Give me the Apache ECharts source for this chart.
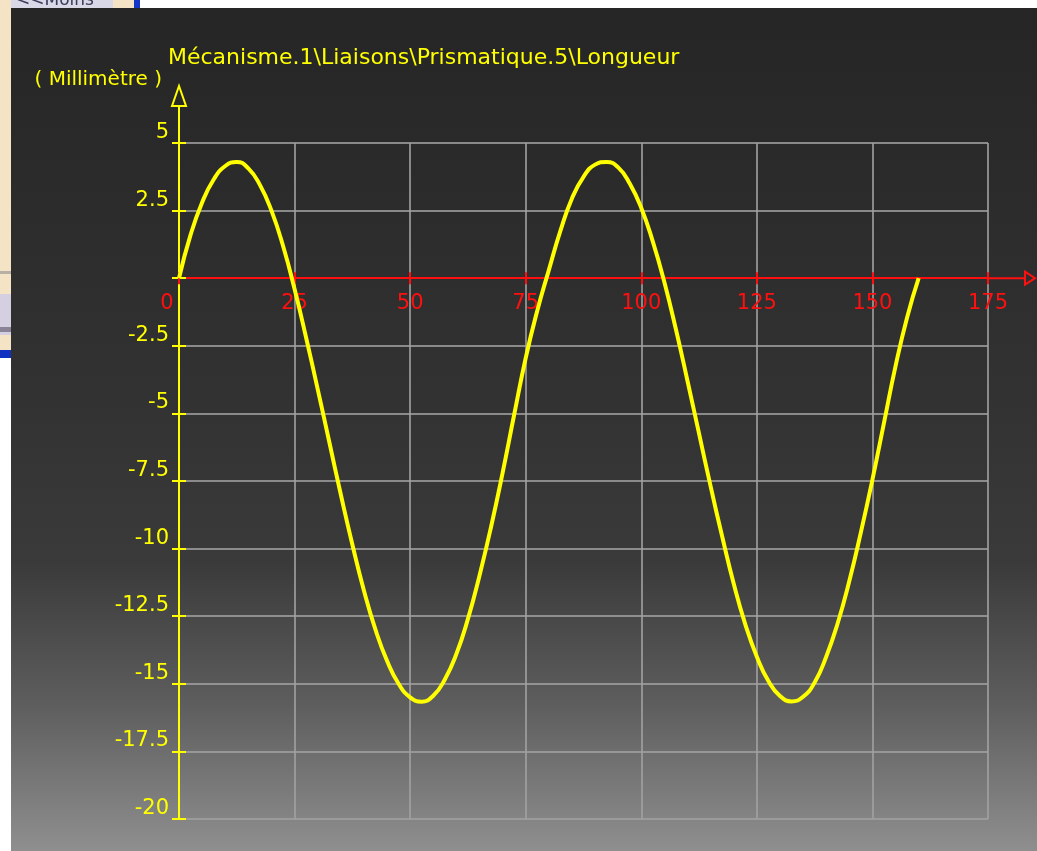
<!DOCTYPE html>
<html>
<head>
<meta charset="utf-8">
<title>Longueur</title>
<script src="https://cdn.jsdelivr.net/npm/echarts@6/dist/echarts.min.js"></script>
<style>
html,body{margin:0;padding:0;background:#fff;}
#main{width:1037px;height:851px;}
</style>
</head>
<body>
<div id="main"></div>
<script>
// values (x in steps of 2.5)
var x_values = [0,2.5,5,7.5,10,12.5,15,17.5,20,22.5,
	25,27.5,30,32.5,35,37.5,40,42.5,45,47.5,
	50,52.5,55,57.5,60,62.5,65,67.5,70,72.5,
	75,77.5,80,82.5,85,87.5,90,92.5,95,97.5,
	100,102.5,105,107.5,110,112.5,115,117.5,120,122.5,
	125,127.5,130,132.5,135,137.5,140,142.5,145,147.5,
	150,152.5,155,157.5,160];
var y_values = [0,1.6,2.8,3.65,4.15,4.3,4.06,3.45,2.5,1.2,
	-0.4,-2.2,-4.1,-6.05,-8.0,-9.85,-11.55,-13.0,-14.15,-15.0,
	-15.5,-15.66,-15.44,-14.84,-13.9,-12.6,-11.0,-9.2,-7.2,-5.05,
	-2.95,-1.2,0.3,1.75,2.95,3.75,4.2,4.3,4.1,3.5,
	2.6,1.35,-0.15,-1.9,-3.8,-5.75,-7.7,-9.55,-11.3,-12.8,
	-14.0,-14.9,-15.45,-15.65,-15.48,-14.95,-14.0,-12.75,-11.2,-9.4,
	-7.45,-5.35,-3.25,-1.45,0];

var x_range = [0, 175, 25];
var y_range = [-20, 5, 2.5];
var chart_title = 'Mécanisme.1\\Liaisons\\Prismatique.5\\Longueur';
var y_unit = '( Millimètre )';

var YELLOW = '#ffff00';
var RED = '#ff1010';
var GRIDLINE = 'rgba(161,161,161,0.8)';
var FONT = 'DejaVu Sans';
var GRID = {left: 179, right: 49, top: 143, bottom: 32};

var series_data = [];
for (var i = 0; i < x_values.length; i++) {
	series_data.push([x_values[i], y_values[i]]);
}

// the red x axis sits on y = 0, move it up from the bottom edge
var grid_h = 851 - GRID.top - GRID.bottom;
var zero_offset = -grid_h * (0 - y_range[0]) / (y_range[1] - y_range[0]);

var myChart = echarts.init(document.getElementById('main'));

var bg = new echarts.graphic.LinearGradient(0, 0, 0, 1, [
	{offset: 0, color: '#252525'},
	{offset: 0.47, color: '#323232'},
	{offset: 0.66, color: '#3a3a3a'},
	{offset: 0.83, color: '#5e5e5e'},
	{offset: 1, color: '#8f8f8f'}
]);

myChart.setOption({
	animation: false,
	backgroundColor: bg,
	title: {
		text: chart_title,
		left: 163,
		top: 42,
		textStyle: {color: YELLOW, fontSize: 22, fontWeight: 'normal', fontFamily: FONT}
	},
	grid: {left: GRID.left, right: GRID.right, top: GRID.top, bottom: GRID.bottom, containLabel: false, outerBoundsMode: 'none'},
	xAxis: [{
		type: 'value',
		position: 'bottom',
		offset: zero_offset,
		min: x_range[0], max: x_range[1], interval: x_range[2],
		axisLine: {onZero: false, lineStyle: {color: RED, width: 2}},
		axisTick: {show: true, length: 6, lineStyle: {color: RED, width: 2}},
		axisLabel: {
			color: RED, fontSize: 21, fontFamily: FONT, margin: 15,
			formatter: function (v) { return v === 0 ? '{z|0}' : String(v); },
			rich: {z: {color: RED, fontSize: 21, fontFamily: FONT, padding: [0, 24, 0, 0]}}
		},
		splitLine: {show: true, lineStyle: {color: GRIDLINE, width: 2}}
	}, {
		type: 'value',
		position: 'bottom',
		offset: zero_offset,
		min: x_range[0], max: x_range[1], interval: x_range[2],
		axisLine: {show: false, onZero: false},
		axisTick: {show: true, inside: true, length: 6, lineStyle: {color: RED, width: 2}},
		axisLabel: {show: false},
		splitLine: {show: false}
	}],
	yAxis: [{
		type: 'value',
		position: 'left',
		min: y_range[0], max: y_range[1], interval: y_range[2],
		name: y_unit,
		nameLocation: 'end',
		nameGap: 63,
		nameTextStyle: {color: YELLOW, fontSize: 20, fontFamily: FONT, align: 'right', verticalAlign: 'middle', padding: [0, 17, 0, 0]},
		axisLine: {onZero: false, lineStyle: {color: YELLOW, width: 2}},
		axisTick: {show: true, length: 7, lineStyle: {color: YELLOW, width: 2}},
		axisLabel: {
			color: YELLOW, fontSize: 21, fontFamily: FONT, margin: 10,
			verticalAlign: 'bottom', lineHeight: 21,
			formatter: function (v) { return v === 0 ? '' : String(v); }
		},
		splitLine: {show: true, showMinLine: true, lineStyle: {color: GRIDLINE, width: 2}}
	}, {
		type: 'value',
		position: 'left',
		min: y_range[0], max: y_range[1], interval: y_range[2],
		axisLine: {show: false, onZero: false},
		axisTick: {show: true, inside: true, length: 7, lineStyle: {color: YELLOW, width: 2}},
		axisLabel: {show: false},
		splitLine: {show: false}
	}],
	series: [{
		name: 'Longueur',
		type: 'line',
		xAxisIndex: 0,
		yAxisIndex: 0,
		data: series_data,
		smooth: 0.5,
		showSymbol: false,
		lineStyle: {color: YELLOW, width: 4},
		itemStyle: {color: YELLOW},
		z: 5
	}]
});

// axis arrows + bits of the surrounding windows
var x_end = myChart.convertToPixel({xAxisIndex: 0, yAxisIndex: 0}, [x_range[1], 0]);
var y_end = myChart.convertToPixel({xAxisIndex: 0, yAxisIndex: 0}, [0, y_range[1]]);

myChart.setOption({
	graphic: [
		{type: 'rect', shape: {x: 0, y: 0, width: 1037, height: 8}, style: {fill: '#ffffff'}, z: 50},
		{type: 'rect', shape: {x: 0, y: 0, width: 113, height: 8}, style: {fill: '#d9d8e6'}, z: 51},
		{type: 'text', style: {text: '<<Moins', x: 16, y: 9, fill: '#3a3a5a', font: '17px "DejaVu Sans"', textVerticalAlign: 'bottom'}, z: 52},
		{type: 'rect', shape: {x: 113, y: 0, width: 21, height: 8}, style: {fill: '#f4e3c4'}, z: 51},
		{type: 'rect', shape: {x: 134, y: 0, width: 6, height: 8}, style: {fill: '#1636c8'}, z: 51},
		{type: 'rect', shape: {x: 0, y: 8, width: 11, height: 843}, style: {fill: '#ffffff'}, z: 50},
		{type: 'rect', shape: {x: 0, y: 0, width: 11, height: 350}, style: {fill: '#f4e3c4'}, z: 51},
		{type: 'rect', shape: {x: 0, y: 271, width: 11, height: 3}, style: {fill: '#b8b0a4'}, z: 52},
		{type: 'rect', shape: {x: 0, y: 294, width: 11, height: 41}, style: {fill: '#d4d0e2'}, z: 52},
		{type: 'rect', shape: {x: 0, y: 327, width: 11, height: 5}, style: {fill: '#8a8296'}, z: 53},
		{type: 'rect', shape: {x: 0, y: 350, width: 11, height: 8}, style: {fill: '#1030c0'}, z: 52},
		{type: 'line', shape: {x1: x_end[0], y1: x_end[1], x2: x_end[0] + 37, y2: x_end[1]}, style: {stroke: RED, lineWidth: 2}, z: 60},
		{type: 'polygon', shape: {points: [[x_end[0] + 37, x_end[1] - 6.5], [x_end[0] + 47, x_end[1]], [x_end[0] + 37, x_end[1] + 6.5]]}, style: {fill: 'none', stroke: RED, lineWidth: 2}, z: 60},
		{type: 'line', shape: {x1: y_end[0], y1: y_end[1], x2: y_end[0], y2: y_end[1] - 37}, style: {stroke: YELLOW, lineWidth: 2}, z: 60},
		{type: 'polygon', shape: {points: [[y_end[0] - 7, y_end[1] - 37], [y_end[0], y_end[1] - 57], [y_end[0] + 7, y_end[1] - 37]]}, style: {fill: 'none', stroke: YELLOW, lineWidth: 2}, z: 60}
	]
});
</script>
</body>
</html>
